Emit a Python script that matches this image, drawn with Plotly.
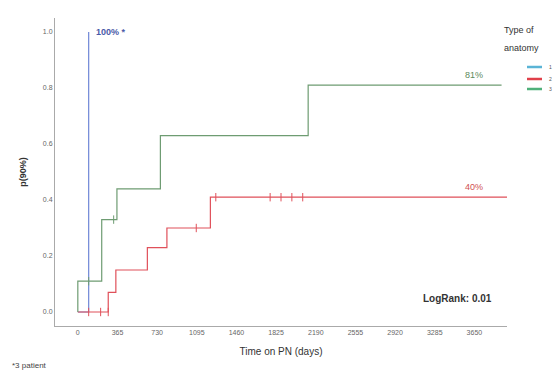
import plotly.graph_objects as go

# Kaplan-Meier step data (days, cumulative proportion)
blue_days = [0, 100, 100]
blue_vals = [0.0, 0.0, 1.0]

green_days = [0, 0, 220, 220, 360, 360, 760, 760, 2120, 2120, 3900]
green_vals = [0.0, 0.11, 0.11, 0.33, 0.33, 0.44, 0.44, 0.63, 0.63, 0.81, 0.81]

red_days = [0, 280, 280, 350, 350, 640, 640, 820, 820, 1220, 1220, 3980]
red_vals = [0.0, 0.0, 0.07, 0.07, 0.15, 0.15, 0.23, 0.23, 0.30, 0.30, 0.41, 0.41]

green_cens_days = [100, 330]
green_cens_vals = [0.11, 0.33]
red_cens_days = [100, 210, 280, 1090, 1270, 1770, 1870, 1970, 2070]
red_cens_vals = [0.0, 0.0, 0.0, 0.30, 0.41, 0.41, 0.41, 0.41, 0.41]

x_ticks = [0, 365, 730, 1095, 1460, 1825, 2190, 2555, 2920, 3285, 3650]
y_ticks = [0.0, 0.2, 0.4, 0.6, 0.8, 1.0]
legend_names = ["1", "2", "3"]

BLUE = "#6f86d6"
RED = "#e0505a"
GREEN = "#6e9c72"
LEG_COLORS = ["#5ab4d6", "#e0404a", "#4fb07a"]

fig = go.Figure()
fig.add_trace(go.Scatter(x=blue_days, y=blue_vals, mode="lines", name=legend_names[0],
                         line=dict(color=BLUE, width=1.2), showlegend=False))
fig.add_trace(go.Scatter(x=red_days, y=red_vals, mode="lines", name=legend_names[1],
                         line=dict(color=RED, width=1.2), showlegend=False))
fig.add_trace(go.Scatter(x=green_days, y=green_vals, mode="lines", name=legend_names[2],
                         line=dict(color=GREEN, width=1.2), showlegend=False))
fig.add_trace(go.Scatter(x=green_cens_days, y=green_cens_vals, mode="markers", showlegend=False,
                         marker=dict(symbol="line-ns", size=6, line=dict(color=GREEN, width=1))))
fig.add_trace(go.Scatter(x=red_cens_days, y=red_cens_vals, mode="markers", showlegend=False,
                         marker=dict(symbol="line-ns", size=6, line=dict(color=RED, width=1))))

axis_font = dict(family="Liberation Sans, Arial, sans-serif", size=7, color="#666666")
fig.update_layout(
    width=558, height=373,
    margin=dict(l=55, r=51, t=18, b=47),
    plot_bgcolor="white", paper_bgcolor="white",
    font=dict(family="Liberation Sans, Arial, sans-serif"),
    xaxis=dict(range=[-210, 3950], tickvals=x_ticks, ticktext=[str(v) for v in x_ticks],
               showgrid=False, zeroline=False, showline=True, linecolor="#aaaaaa", linewidth=1,
               ticks="", tickfont=axis_font,
               title=dict(text="Time on PN (days)", font=dict(size=10, color="#333333"), standoff=12)),
    yaxis=dict(range=[-0.05, 1.05], tickvals=y_ticks, ticktext=["0.0", "0.2", "0.4", "0.6", "0.8", "1.0"],
               showgrid=False, zeroline=False, showline=True, linecolor="#aaaaaa", linewidth=1,
               ticks="", tickfont=axis_font,
               title=dict(text="<b>p(90%)</b>", font=dict(size=9, color="#333333"), standoff=14)),
    showlegend=False,
)

# manual legend (paper coordinates)
px = lambda v: (v - 55) / 452.0
py = lambda v: (326 - v) / 308.0
fig.add_annotation(xref="paper", yref="paper", x=px(502), y=py(30), text="Type of",
                   showarrow=False, xanchor="left", yanchor="middle",
                   font=dict(size=9, color="#333333"))
fig.add_annotation(xref="paper", yref="paper", x=px(502), y=py(48), text="anatomy",
                   showarrow=False, xanchor="left", yanchor="middle",
                   font=dict(size=9, color="#333333"))
for i, (name, col, yy) in enumerate(zip(legend_names, LEG_COLORS, [67, 79, 89])):
    fig.add_shape(type="line", xref="paper", yref="paper", x0=px(527), x1=px(542), y0=py(yy), y1=py(yy),
                  line=dict(color=col, width=2.5))
    fig.add_annotation(xref="paper", yref="paper", x=px(547), y=py(yy), text=name, showarrow=False,
                       xanchor="left", yanchor="middle", font=dict(size=5, color="#555555"))

fig.add_annotation(x=100, y=1.0, text="<b>100% *</b>", showarrow=False, xanchor="left", yanchor="middle",
                   xshift=5, font=dict(size=9, color="#4a5aa8"))
fig.add_annotation(x=3650, y=0.81, text="81%", showarrow=False, xanchor="center", yanchor="bottom",
                   yshift=3, font=dict(size=9, color="#5c8a5c"))
fig.add_annotation(x=3650, y=0.41, text="40%", showarrow=False, xanchor="center", yanchor="bottom",
                   yshift=3, font=dict(size=9, color="#d05050"))
fig.add_annotation(x=3490, y=0.05, text="<b>LogRank: 0.01</b>", showarrow=False, xanchor="center",
                   yanchor="middle", font=dict(size=10, color="#333333"))
fig.add_annotation(xref="paper", yref="paper", x=px(10), y=py(365), text="*3 patient", showarrow=False,
                   xanchor="left", yanchor="middle", font=dict(size=8, color="#444444"))

fig.write_html("out.html")
